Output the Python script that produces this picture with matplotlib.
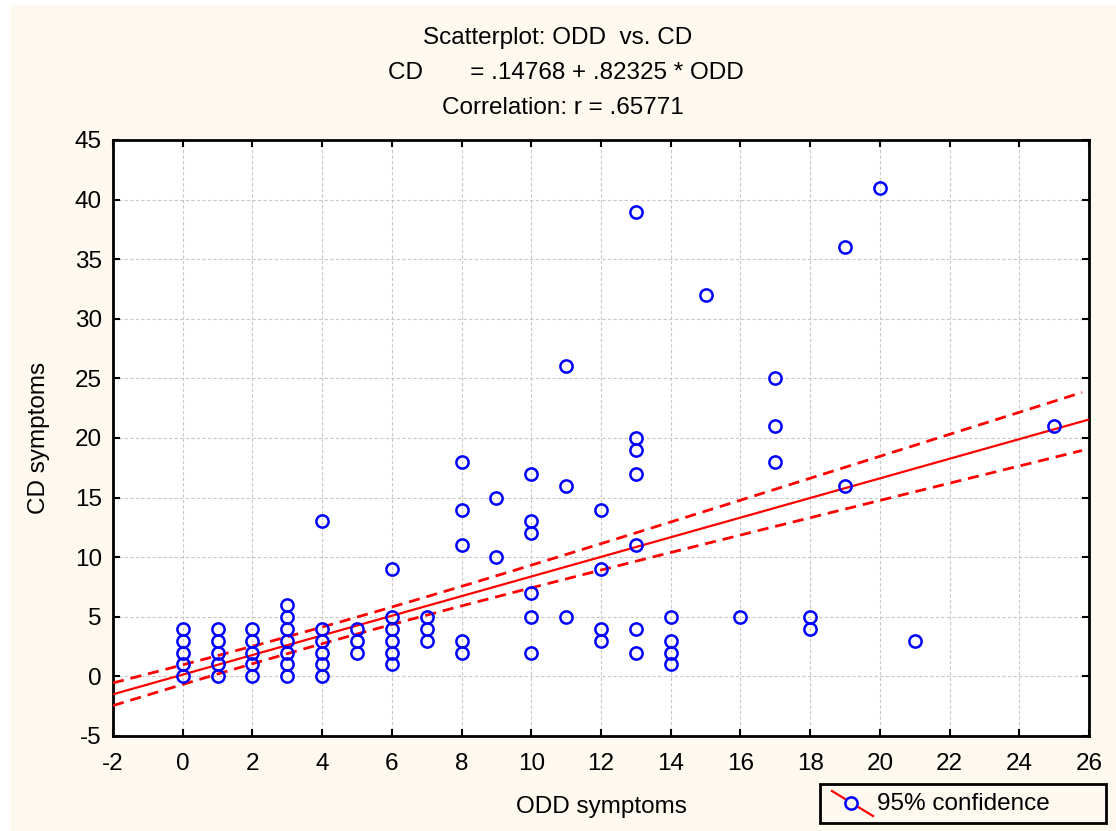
import numpy as np
import matplotlib
matplotlib.use("Agg")
import matplotlib.pyplot as plt
from matplotlib.patches import Rectangle
from matplotlib.lines import Line2D

plt.rcParams['font.family'] = ['Liberation Sans', 'DejaVu Sans']
plt.rcParams['axes.unicode_minus'] = False

# ---- data (ODD symptoms, CD symptoms) ----
odd = [0, 0, 0, 0, 0,
       1, 1, 1, 1, 1,
       2, 2, 2, 2, 2,
       3, 3, 3, 3, 3, 3, 3,
       4, 4, 4, 4, 4, 4,
       5, 5, 5,
       6, 6, 6, 6, 6, 6,
       7, 7, 7,
       8, 8, 8, 8, 8,
       9, 9,
       10, 10, 10, 10, 10, 10,
       11, 11, 11,
       12, 12, 12, 12,
       13, 13, 13, 13, 13, 13, 13,
       14, 14, 14, 14,
       15,
       16,
       17, 17, 17,
       18, 18,
       19, 19,
       20,
       21,
       25]
cd = [0, 1, 2, 3, 4,
      0, 1, 2, 3, 4,
      0, 1, 2, 3, 4,
      0, 1, 2, 3, 4, 5, 6,
      0, 1, 2, 3, 4, 13,
      2, 3, 4,
      1, 2, 3, 4, 5, 9,
      3, 4, 5,
      2, 3, 11, 14, 18,
      10, 15,
      2, 5, 7, 12, 13, 17,
      5, 16, 26,
      3, 4, 9, 14,
      2, 4, 11, 17, 19, 20, 39,
      1, 2, 3, 5,
      32,
      5,
      18, 21, 25,
      4, 5,
      16, 36,
      41,
      3,
      21]

# regression (from chart header) and confidence band parameters
intercept = 0.14768
slope = 0.82325
r_value = 0.65771
ci_xbar = 4.0      # centre of confidence band
ci_a = 0.70        # half-width at centre
ci_b = 0.107       # growth of half-width with distance

x_ticks = list(range(-2, 27, 2))
y_ticks = list(range(-5, 46, 5))

FS = 17.5
cream = '#FEF9EF'
fig = plt.figure(figsize=(11.16, 8.31), dpi=100, facecolor='white')
fig.add_artist(Rectangle((10 / 1116, 0), 1, 1 - 5 / 831, transform=fig.transFigure,
                         facecolor=cream, edgecolor='none', zorder=-10))

ax = fig.add_axes([113 / 1116, 1 - 736 / 831, (1089 - 113) / 1116, (736 - 140) / 831])
ax.set_facecolor('white')

ax.set_xlim(-2, 26)
ax.set_ylim(-5, 45)
ax.set_xticks(x_ticks)
ax.set_yticks(y_ticks)
ax.grid(True, color='#c8c8c8', linestyle=(0, (3, 2)), linewidth=0.8)
ax.set_axisbelow(True)

xs = np.linspace(-2, 26, 200)
yfit = intercept + slope * xs
ax.plot(xs, yfit, color='red', lw=1.6, zorder=3)
xc = np.linspace(-2, 25.8, 200)
hw = np.sqrt(ci_a ** 2 + ci_b ** 2 * (xc - ci_xbar) ** 2)
yc = intercept + slope * xc
ax.plot(xc, yc + hw, color='red', lw=2.0, ls=(0, (4, 2.5)), zorder=3)
ax.plot(xc, yc - hw, color='red', lw=2.0, ls=(0, (4, 2.5)), zorder=3)

ax.plot(odd, cd, ls='none', marker='o', markersize=8.8, markerfacecolor='none',
        markeredgecolor='blue', markeredgewidth=1.8, zorder=4)

for s in ax.spines.values():
    s.set_linewidth(2)
    s.set_color('black')
ax.tick_params(direction='in', length=5, width=1.5, labelsize=FS,
               top=True, right=True, pad=8)
ax.tick_params(axis='x', pad=12)

ax.set_xlabel('ODD symptoms', fontsize=FS, labelpad=15)
ax.set_ylabel('CD symptoms', fontsize=FS, labelpad=18)

fig.text(558 / 1116, 1 - 38 / 831, 'Scatterplot: ODD  vs. CD', ha='center', va='center', fontsize=FS)
fig.text(566 / 1116, 1 - 73 / 831, 'CD       = .14768 + .82325 * ODD', ha='center', va='center', fontsize=FS)
fig.text(563 / 1116, 1 - 108 / 831, 'Correlation: r = .65771', ha='center', va='center', fontsize=FS)

# legend box
fig.add_artist(Rectangle((820 / 1116, 1 - 823 / 831), (1106 - 820) / 1116, (823 - 784) / 831,
                         transform=fig.transFigure, facecolor=cream, edgecolor='black', lw=2))
fig.add_artist(Line2D([832 / 1116, 873 / 1116], [1 - 791 / 831, 1 - 816 / 831],
                      transform=fig.transFigure, color='red', lw=1.6))
fig.add_artist(Line2D([851 / 1116], [1 - 803 / 831], transform=fig.transFigure, ls='none',
                      marker='o', markersize=8.8, markerfacecolor=cream,
                      markeredgecolor='blue', markeredgewidth=1.8))
fig.text(877 / 1116, 1 - 804 / 831, '95% confidence', ha='left', va='center', fontsize=FS)

fig.savefig('out.png', dpi=100, facecolor=fig.get_facecolor())
